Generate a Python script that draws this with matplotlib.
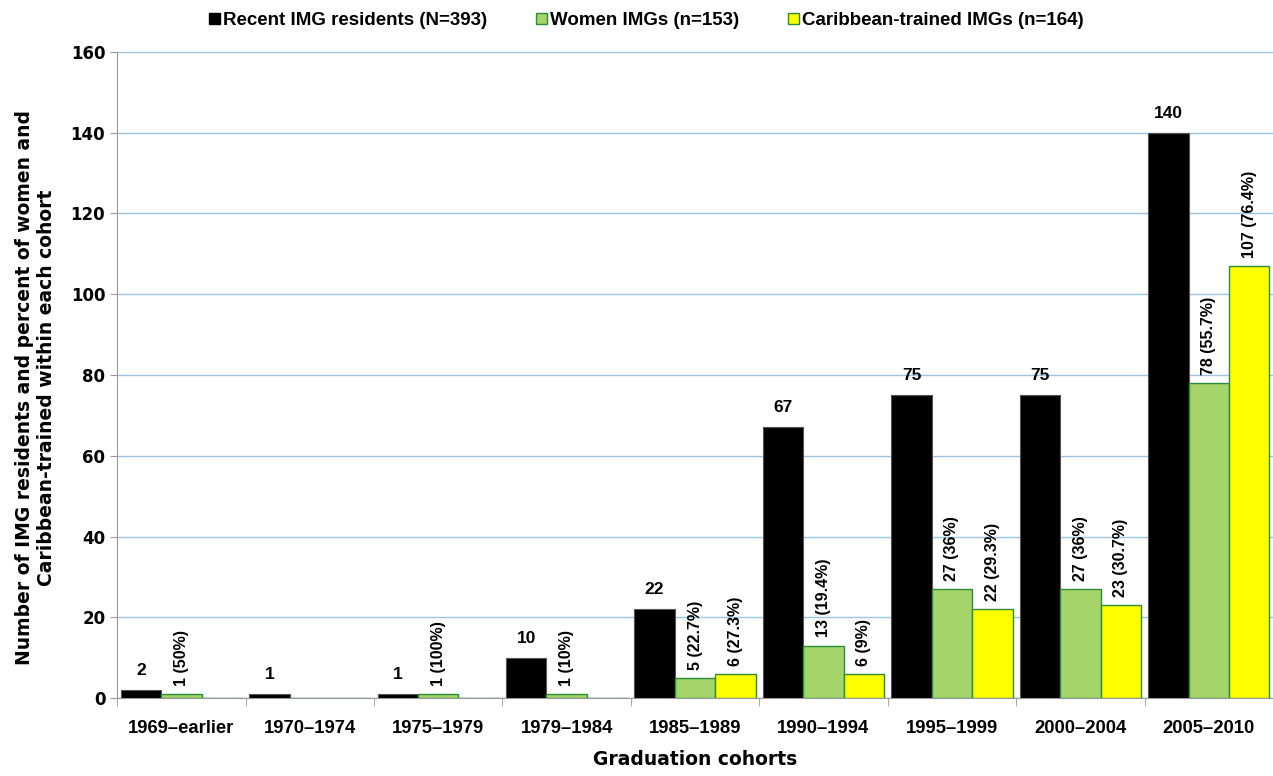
import numpy as np
import matplotlib
matplotlib.use("Agg")
import matplotlib.pyplot as plt
from matplotlib.patches import Patch

plt.rcParams["font.family"] = ["Liberation Sans", "DejaVu Sans"]
plt.rcParams["font.weight"] = "bold"

cohorts = ["1969\u2013earlier", "1970\u20131974", "1975\u20131979", "1979\u20131984",
           "1985\u20131989", "1990\u20131994", "1995\u20131999", "2000\u20132004",
           "2005\u20132010"]
recent = [2, 1, 1, 10, 22, 67, 75, 75, 140]
women = [1, 0, 1, 1, 5, 13, 27, 27, 78]
women_labels = ["1 (50%)", "", "1 (100%)", "1 (10%)", "5 (22.7%)", "13 (19.4%)",
                "27 (36%)", "27 (36%)", "78 (55.7%)"]
carib = [0, 0, 0, 0, 6, 6, 22, 23, 107]
carib_labels = ["", "", "", "", "6 (27.3%)", "6 (9%)", "22 (29.3%)", "23 (30.7%)",
                "107 (76.4%)"]

black = "#000000"
green = "#A4D46A"
yellow = "#FFFF00"
edge = "#2E8B3A"
grid_blue = "#9DC3E6"
heavy = ["DejaVu Sans"]

fig = plt.figure(figsize=(12.73, 7.76), dpi=100)
ax = fig.add_axes([0.092, 0.1005, 0.908, 0.8325])

x = np.arange(len(cohorts))
w = 0.315
ax.bar(x - w, recent, w, color=black, edgecolor="#555555", linewidth=0.8, zorder=3)
ax.bar(x, women, w, color=green, edgecolor=edge, linewidth=1.0, zorder=3)
ax.bar(x + w, carib, w, color=yellow, edgecolor=edge, linewidth=1.0, zorder=3)

for i in range(len(cohorts)):
    ax.text(x[i] - w, recent[i] + 3, str(recent[i]), ha="center", va="bottom",
            fontsize=12.5, fontweight="bold")
    if women_labels[i]:
        ax.text(x[i], women[i] + 2, women_labels[i], ha="center", va="bottom",
                rotation=90, fontsize=11.5, fontweight="bold")
    if carib_labels[i]:
        ax.text(x[i] + w, carib[i] + 2, carib_labels[i], ha="center", va="bottom",
                rotation=90, fontsize=11.5, fontweight="bold")

ax.set_xlim(-0.5, len(cohorts) - 0.5)
ax.set_ylim(0, 160)
ax.set_yticks(np.arange(0, 161, 20))
ax.yaxis.grid(True, color=grid_blue, linewidth=1.0, zorder=0)
ax.set_axisbelow(True)

ax.set_xticks(x)
ax.set_xticklabels(cohorts, fontsize=13.3, fontweight="bold")
ax.set_xticks(np.arange(-0.5, len(cohorts), 1), minor=True)
ax.tick_params(axis="x", which="major", length=0, pad=16)
ax.tick_params(axis="x", which="minor", length=6, color="#999999")
ax.tick_params(axis="y", length=5, color="#999999", labelsize=12)
for lab in ax.get_yticklabels():
    lab.set_fontweight("bold")
    lab.set_family(heavy)

for s in ["top", "right"]:
    ax.spines[s].set_visible(False)
ax.spines["left"].set_color("#999999")
ax.spines["bottom"].set_color("#999999")

ax.set_xlabel("Graduation cohorts", fontsize=13.5, fontweight="bold",
              family=heavy, labelpad=9)
ax.set_ylabel("Number of IMG residents and percent of women and\nCaribbean-trained within each cohort",
              fontsize=13.5, fontweight="bold", family=heavy)
ax.yaxis.set_label_coords(-0.053, 0.48)

handles = [Patch(facecolor=black, edgecolor=black),
           Patch(facecolor=green, edgecolor=edge),
           Patch(facecolor=yellow, edgecolor=edge)]
names = ["Recent IMG residents (N=393)", "Women IMGs (n=153)",
         "Caribbean-trained IMGs (n=164)"]
fig.legend(handles, names, loc="upper center", bbox_to_anchor=(0.508, 1.006), ncol=3,
           frameon=False, fontsize=13.5, handlelength=0.55, handleheight=0.55,
           handletextpad=0.2, columnspacing=2.6)

fig.savefig("out.png", dpi=100)
